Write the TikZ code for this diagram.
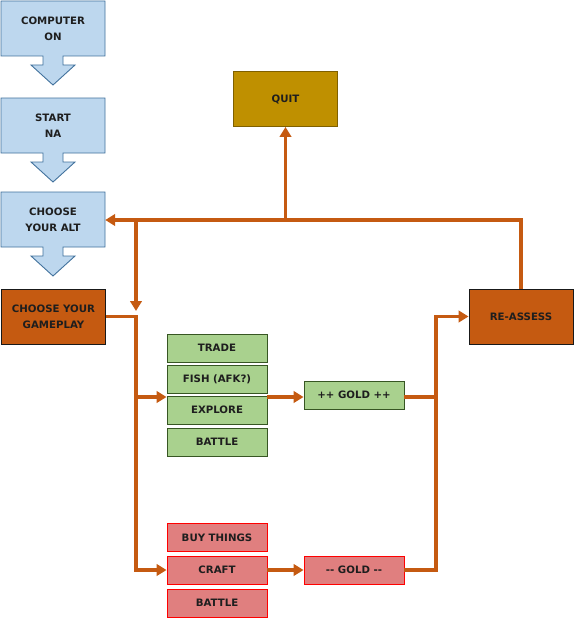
\documentclass[tikz,border=0pt]{standalone}
\usepackage{fontspec}
\setmainfont{DejaVu Sans}
\usetikzlibrary{arrows.meta}
\definecolor{cfill}{HTML}{BDD7EE}
\definecolor{cline}{HTML}{41719C}
\definecolor{orng}{HTML}{C55A11}
\definecolor{gfill}{HTML}{A9D18E}
\definecolor{gline}{HTML}{375623}
\definecolor{rfill}{HTML}{E07F7F}
\definecolor{rline}{HTML}{FF0000}
\definecolor{qfill}{HTML}{BF9000}
\definecolor{qline}{HTML}{7F6000}
\definecolor{txt}{HTML}{1E1E1E}
\begin{document}
\begin{tikzpicture}[x=1pt,y=-1pt,
  every node/.style={font=\fontsize{10.2}{16}\selectfont\bfseries, text=txt, align=center, inner sep=0pt},
  callout/.style={draw=cline, fill=cfill, line width=0.9pt},
  ctext/.style={minimum width=104pt, minimum height=55pt},
  obox/.style={draw=black!90, fill=orng, line width=0.9pt, minimum width=104pt, minimum height=55pt},
  gbox/.style={draw=gline, fill=gfill, line width=0.9pt, minimum width=100pt, minimum height=28pt},
  rbox/.style={draw=rline, fill=rfill, line width=0.9pt, minimum width=100pt, minimum height=28pt},
  qbox/.style={draw=qline, fill=qfill, line width=0.9pt, minimum width=104pt, minimum height=55pt},
  conn/.style={draw=orng, line width=3.7pt},
  tip/.style={-{Triangle[length=10pt,width=11.5pt]}}
]
\useasboundingbox (0,0) rectangle (574,618);
% callouts
\foreach \yy in {1,98,192}{
  \draw[callout] (1,\yy) -- (105,\yy) -- (105,\yy+55) -- (63,\yy+55) -- (63,\yy+64) -- (75,\yy+64)
    -- (53,\yy+84) -- (31,\yy+64) -- (43,\yy+64) -- (43,\yy+55) -- (1,\yy+55) -- cycle;
}
\node[ctext] (on) at (53,28.5) {COMPUTER\\ON};
\node[ctext] (na) at (53,125.5) {START\\NA};
\node[ctext] (alt) at (53,220) {CHOOSE\\YOUR ALT};
\node[obox] (play) at (53.5,316.5) {CHOOSE YOUR\\GAMEPLAY};
\node[qbox] (quit) at (285.5,99) {QUIT};
\node[obox] (reassess) at (521,316.5) {RE-ASSESS};
\node[gbox] (trade) at (217,348) {TRADE};
\node[gbox] (fish) at (217,379) {FISH (AFK?)};
\node[gbox] (explore) at (217,410) {EXPLORE};
\node[gbox] (battleg) at (217,442) {BATTLE};
\node[gbox] (gain) at (354,395) {++ GOLD ++};
\node[rbox] (buy) at (217,537.5) {BUY THINGS};
\node[rbox] (craft) at (217,570) {CRAFT};
\node[rbox] (battler) at (217,603) {BATTLE};
\node[rbox] (loss) at (354,570) {-{}- GOLD -{}-};
% junctions
\coordinate (v1) at (136,316.5);
\coordinate (j1) at (136,397);
\coordinate (k1) at (436,397);
\coordinate (h1) at (136,220);
\coordinate (h2) at (285.5,220);
\coordinate (v3) at (136,311);
% connectors
\draw[conn,tip] (play.east) -- (v1) |- (craft.west);
\draw[conn,tip] (j1) -- (explore.west |- j1);
\draw[conn,tip] (explore.east |- j1) -- (gain.west |- j1);
\draw[conn,tip] (craft.east) -- (loss.west);
\draw[conn] (gain.east |- j1) -- (k1);
\draw[conn,tip] (loss.east) -| (k1) |- (reassess.west);
\draw[conn,tip] (reassess.north) |- (alt.east);
\draw[conn,tip] (h2) -- (quit.south);
\draw[conn,tip] (h1) -- (v3);
\end{tikzpicture}
\end{document}
